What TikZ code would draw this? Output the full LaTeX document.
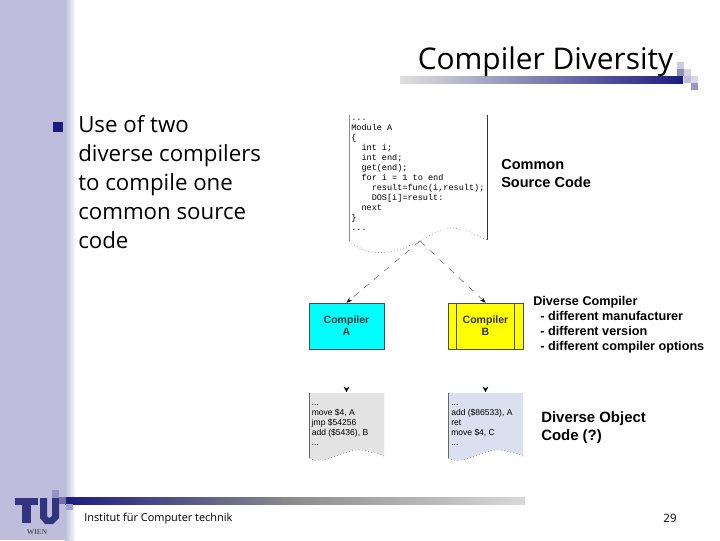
\documentclass[tikz,border=0pt]{standalone}
\usepackage{fontspec}
\setmainfont{Liberation Sans}
\setmonofont{Liberation Mono}
\newfontfamily\slidefont{Open Sans}
\newfontfamily\logofont{Liberation Serif}
\usetikzlibrary{positioning, arrows.meta}

\definecolor{bandcol}{HTML}{BEBEDC}
\definecolor{barcol}{HTML}{1C1C80}
\definecolor{logocol}{HTML}{33337F}
\definecolor{compa}{HTML}{00FFFF}
\definecolor{compb}{HTML}{FFFF00}
\definecolor{obja}{HTML}{E3E3E3}
\definecolor{objb}{HTML}{DAE0F0}

\begin{document}
\begin{tikzpicture}[x=0.75pt, y=-0.75pt]
\tikzstyle{compiler} = [rectangle, draw=black!70, line width=0.5pt, minimum width=56.25pt, minimum height=34.5pt,
    text width=50pt, align=center, font=\bfseries\fontsize{7.9}{9}\selectfont, inner sep=0pt, text=black!80]
\tikzstyle{objcode} = [anchor=north west, align=left, inner sep=0pt, font=\fontsize{6.4}{7.6}\selectfont]
\tikzstyle{caption} = [anchor=north west, align=left, inner sep=0pt, font=\bfseries\fontsize{10.9}{13.5}\selectfont]
\tikzstyle{slidetext} = [anchor=north west, align=left, inner sep=0pt, font=\slidefont]
\tikzstyle{line} = [draw=black!65, dash pattern=on 5pt off 5pt, line width=0.35pt, -{Stealth[length=1.5mm, black]}]
\tikzstyle{tipline} = [draw=white, line width=0.3pt, shorten <=2pt, -{Stealth[length=1.4mm, width=1.5mm, black]}]

\useasboundingbox (0,0) rectangle (720,540);

% slide background
\fill[bandcol] (0,0) rectangle (65,540);
\fill[left color=bandcol, right color=white] (65,0) rectangle (76,540);
\fill[left color=black!12, right color=barcol] (400,76) rectangle (683,83);
\fill[left color=barcol, right color=black!15, middle color=black!45] (65,497) rectangle (525,504);

% corner squares
\fill[bandcol!80] (677,62) rectangle (684,69);
\fill[bandcol!70] (684,69) rectangle (691,76);
\fill[logocol!55] (677,69) rectangle (684,76);
\fill[bandcol] (684,76) rectangle (691,83);
\fill[bandcol!60] (691,76) rectangle (698,83);
\fill[logocol!50] (691,83) rectangle (698,90);

% logo
\fill[logocol] (15,498) rectangle (38,505);
\fill[logocol] (22,498) rectangle (31,523);
\fill[logocol] (40,498) -- (47,498) -- (47,516) -- (49,518) -- (52,516) -- (52,498) -- (59,498)
    -- (59,518) -- (53,524) -- (45,524) -- (40,518) -- cycle;
\fill[bandcol!70!logocol] (52,490) rectangle (59,498);
\fill[logocol!70] (59,497) rectangle (66,504);
\fill[bandcol!80!logocol] (66,504) rectangle (73,510);
\node (wien) at (37,532) [inner sep=0pt, font=\logofont\bfseries\fontsize{5.5}{6}\selectfont, text=black!65] {WIEN};

% title and bullet
\node (title) at (545.5,62) [slidetext, anchor=center, font=\slidefont\fontsize{22.4}{27}\selectfont] {Compiler Diversity};
\fill[barcol] (53,122) rectangle (63,132);
\node (bullet) at (78,115) [slidetext, font=\slidefont\fontsize{16.7}{21.75}\selectfont]
    {Use of two\\diverse compilers\\to compile one\\common source\\code};
\node (inst) at (84,513) [slidetext, font=\slidefont\fontsize{8.2}{10}\selectfont] {Institut für Computer technik};
\node (page) at (670,518) [slidetext, anchor=center, font=\slidefont\fontsize{8.6}{10}\selectfont] {29};

% source document
\draw[black!45, line width=0.5pt] (349,115) -- (349,241);
\draw[black!80, line width=0.5pt] (487,115) -- (487,240);
\draw[black!70, dotted, line width=0.4pt] (349,241) .. controls (375,262) and (400,250) .. (420,241)
    .. controls (432,235) and (440,228) .. (450,228) .. controls (465,228) and (478,236) .. (487,240);
\node (src) at (351,118.5) [anchor=north west, inner sep=0pt, align=left,
    font=\ttfamily\fontsize{6.4}{7.5}\selectfont] {...\\Module A\\\{\\~~int i;\\~~int end;\\~~get(end);\\~~for i = 1 to end\\~~~~result=func(i,result);\\~~~~DOS[i]=result:\\~~next\\\}\\...};
\coordinate (srcout) at (420,241);

% compilers
\node (ca) at (346.5,326) [compiler, fill=compa] {Compiler\\A};
\node (cb) at (485.5,326) [compiler, fill=compb] {Compiler\\B};
\draw[black!70, line width=0.5pt] ([xshift=6.75pt]cb.north west) -- ([xshift=6.75pt]cb.south west);
\draw[black!70, line width=0.5pt] ([xshift=-6.75pt]cb.north east) -- ([xshift=-6.75pt]cb.south east);

% object code
\fill[obja] (309,393) -- (384,393) -- (384,456) .. controls (376,453) and (366,450) .. (357,450)
    .. controls (338,452) and (322,466) .. (309,458) -- cycle;
\fill[objb] (448,393) -- (523,393) -- (523,456) .. controls (515,453) and (505,450) .. (496,450)
    .. controls (477,452) and (461,466) .. (448,458) -- cycle;
\draw[black!70, dotted, line width=0.4pt] (384,456) .. controls (376,453) and (366,450) .. (357,450)
    .. controls (338,452) and (322,466) .. (309,458);
\draw[black!70, dotted, line width=0.4pt] (523,456) .. controls (515,453) and (505,450) .. (496,450)
    .. controls (477,452) and (461,466) .. (448,458);
\draw[black!60, line width=0.5pt] (309,393) -- (309,458);
\draw[black!60, line width=0.5pt] (448,393) -- (448,458);
\node (oa) at (311.5,404) [objcode] {...\\move \$4, A\\jmp \$54256\\add (\$5436), B\\...};
\node (ob) at (451,404) [objcode] {...\\add (\$86533), A\\ret\\move \$4, C\\...};
\coordinate (oatop) at (346.5,392);
\coordinate (obtop) at (485.5,392);

% labels
\node (lsrc) at (501,159) [caption] {Common\\Source Code};
\node (ldiv) at (533,296) [caption, font=\bfseries\fontsize{9.5}{11.25}\selectfont]
    {Diverse Compiler\\~~- different manufacturer\\~~- different version\\~~- different compiler options};
\node (lobj) at (541,411) [caption, font=\bfseries\fontsize{11.2}{13.5}\selectfont] {Diverse Object\\Code (?)};

% connectors
\path[line] (srcout) -- (ca.north);
\path[line] (srcout) -- (cb.north);
\path[tipline] (ca.south) -- (oatop);
\path[tipline] (cb.south) -- (obtop);
\end{tikzpicture}
\end{document}
